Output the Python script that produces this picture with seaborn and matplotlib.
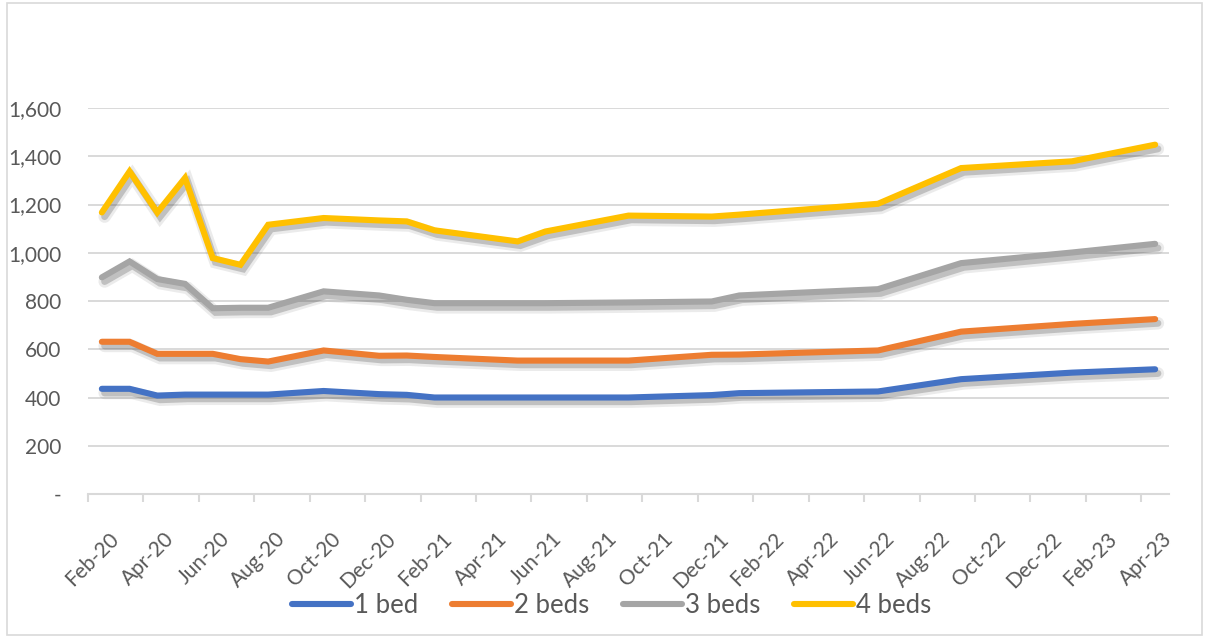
import pandas as pd
import matplotlib
matplotlib.use('Agg')
import matplotlib.pyplot as plt
import matplotlib.patheffects as pe
from matplotlib.patches import Rectangle
from matplotlib.ticker import FixedLocator, FuncFormatter
import seaborn as sns

# Data
dates = ['2020-02', '2020-03', '2020-04', '2020-05', '2020-06', '2020-07', '2020-08',
         '2020-10', '2020-12', '2021-01', '2021-02', '2021-05', '2021-06', '2021-09',
         '2021-12', '2022-01', '2022-06', '2022-09', '2023-01', '2023-04']
bed1 = [436, 436, 408, 412, 412, 412, 412, 427, 414, 411, 400, 400, 400, 400,
        410, 418, 425, 476, 503, 517]
bed2 = [631, 631, 581, 581, 581, 559, 549, 595, 573, 574, 568, 553, 553, 553,
        577, 578, 595, 673, 705, 725]
bed3 = [898, 964, 891, 871, 770, 772, 772, 840, 823, 805, 791, 791, 791, 794,
        798, 823, 849, 957, 1001, 1037]
bed4 = [1167, 1337, 1167, 1310, 978, 950, 1116, 1144, 1134, 1130, 1093, 1047, 1088, 1154,
        1150, 1158, 1203, 1351, 1379, 1448]
series_names = ['1 bed', '2 beds', '3 beds', '4 beds']
colors = ['#4472C4', '#ED7D31', '#A5A5A5', '#FFC000']
tick_labels = ['Feb-20', 'Apr-20', 'Jun-20', 'Aug-20', 'Oct-20', 'Dec-20',
               'Feb-21', 'Apr-21', 'Jun-21', 'Aug-21', 'Oct-21', 'Dec-21',
               'Feb-22', 'Apr-22', 'Jun-22', 'Aug-22', 'Oct-22', 'Dec-22',
               'Feb-23', 'Apr-23']

# month index, Feb-20 = 0
d = pd.to_datetime(dates)
month = (d.year - 2020) * 12 + d.month - 2

df = pd.concat([
    pd.DataFrame({'month': month, 'value': vals, 'beds': name})
    for name, vals in zip(series_names, [bed1, bed2, bed3, bed4])
])

sns.set_style('white')
plt.rcParams['font.family'] = ['Lato', 'DejaVu Sans']
TEXT = '#595959'
GRID = '#D9D9D9'

fig = plt.figure(figsize=(12.06, 6.37), dpi=100)
ax = fig.add_axes([88 / 1206, 1 - 494 / 637, 1081 / 1206, 386 / 637])

# soft drop shadow like the Excel line effect
shadow = [pe.SimpleLineShadow(offset=(2, -3), shadow_color='#404040', alpha=0.10, linewidth=9),
          pe.SimpleLineShadow(offset=(2, -3), shadow_color='#404040', alpha=0.25, linewidth=5),
          pe.Normal()]
sns.lineplot(data=df, x='month', y='value', hue='beds', hue_order=series_names,
             palette=dict(zip(series_names, colors)), estimator=None,
             linewidth=4.4, solid_capstyle='round', solid_joinstyle='miter',
             path_effects=shadow, ax=ax, zorder=3)

# axes
ax.set_xlim(-0.5, 38.5)
ax.set_ylim(0, 1600)
ax.set_xlabel('')
ax.set_ylabel('')
for s in ['top', 'right', 'left']:
    ax.spines[s].set_visible(False)
ax.spines['bottom'].set_color(GRID)
ax.spines['bottom'].set_linewidth(1.5)

ax.yaxis.grid(True, color=GRID, linewidth=1.4)
ax.set_axisbelow(True)
ax.set_yticks(range(0, 1601, 200))
ax.yaxis.set_major_formatter(FuncFormatter(lambda v, p: '-' if v == 0 else f'{int(v):,}'))
ax.tick_params(axis='y', length=0, pad=19, labelsize=15, labelcolor=TEXT)

# labels centred on each odd slot boundary, tick marks between
ax.xaxis.set_major_locator(FixedLocator([i * 2 + 0.5 for i in range(len(tick_labels))]))
ax.set_xticklabels(tick_labels)
ax.xaxis.set_minor_locator(FixedLocator([i * 2 - 0.5 for i in range(len(tick_labels))]))
ax.tick_params(axis='x', which='major', length=0, pad=30, labelsize=15, labelcolor=TEXT)
ax.tick_params(axis='x', which='minor', length=6, width=1.5, color=GRID, bottom=True)
for lbl in ax.get_xticklabels():
    lbl.set_rotation(45)
    lbl.set_ha('right')
    lbl.set_va('center')
    lbl.set_rotation_mode('anchor')

sns.move_legend(ax, 'center', bbox_to_anchor=(0.507, 0.05),
                bbox_transform=fig.transFigure, ncol=4, frameon=False, title=None,
                fontsize=18.5, handlelength=2.3, handletextpad=0.12,
                columnspacing=1.3)
leg = ax.get_legend()
for t in leg.get_texts():
    t.set_color(TEXT)
for h in leg.legend_handles:
    h.set_path_effects([])

# chart border
fig.patches.append(Rectangle((7 / 1206, 2 / 637), 1195 / 1206, 632 / 637,
                             transform=fig.transFigure, fill=False,
                             edgecolor=GRID, linewidth=1.2))

fig.savefig('out.png', dpi=100)
